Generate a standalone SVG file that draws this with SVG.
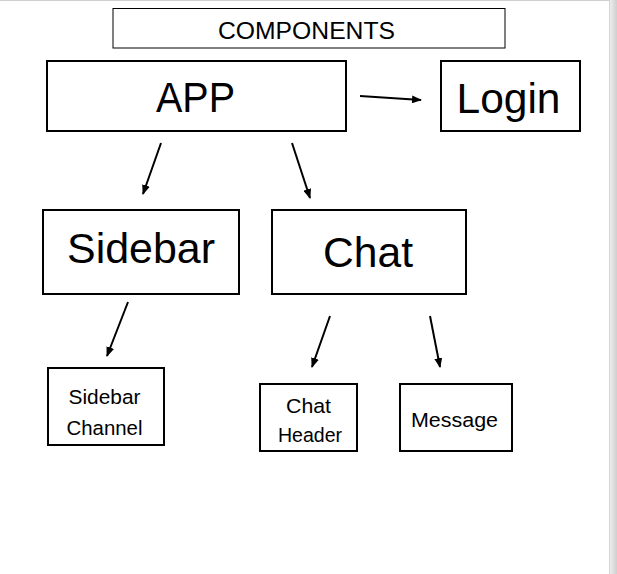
<svg xmlns="http://www.w3.org/2000/svg" width="617" height="574" viewBox="0 0 617 574">
  <style>
    .box { fill: #ffffff; stroke: #000000; stroke-width: 2; }
    .thin { fill: #ffffff; stroke: #000000; stroke-width: 1; }
    .lbl { font-family: "Liberation Sans", Arial, sans-serif; fill: #000000; text-anchor: middle; }
    .big { font-size: 42px; }
    .mid { font-size: 23px; }
    .small { font-size: 20.5px; }
    .conn { stroke: #000000; stroke-width: 2; fill: none; marker-end: url(#arrow); }
  </style>
  <defs>
    <marker id="arrow" markerUnits="userSpaceOnUse" markerWidth="10" markerHeight="8" refX="9" refY="4" orient="auto">
      <path d="M0,0 L10,4 L0,8 Z" fill="#000000"/>
    </marker>
    <linearGradient id="edge" x1="0" y1="0" x2="1" y2="0">
      <stop offset="0" stop-color="#c4c4c4"/>
      <stop offset="0.15" stop-color="#ececec"/>
      <stop offset="1" stop-color="#cfcfcf"/>
    </linearGradient>
  </defs>

  <rect x="0" y="0" width="617" height="574" fill="#ffffff"/>
  <rect x="609" y="0" width="8" height="574" fill="url(#edge)"/>
  <line x1="0" y1="0.5" x2="609" y2="0.5" stroke="#cfcfcf" stroke-width="1"/>

  <g id="title">
    <rect class="thin" x="113" y="8.5" width="392" height="39.5"/>
    <text class="lbl mid" x="306.5" y="38.5" textLength="177" lengthAdjust="spacingAndGlyphs">COMPONENTS</text>
  </g>

  <g id="app">
    <rect class="box" x="47" y="61" width="299" height="70"/>
    <text class="lbl big" x="195.5" y="112" textLength="79" lengthAdjust="spacingAndGlyphs">APP</text>
  </g>

  <g id="login">
    <rect class="box" x="441" y="61" width="139" height="70"/>
    <text class="lbl big" x="508.5" y="113" textLength="104" lengthAdjust="spacingAndGlyphs">Login</text>
  </g>

  <g id="sidebar">
    <rect class="box" x="43" y="210" width="196" height="84"/>
    <text class="lbl big" x="141" y="263" textLength="148" lengthAdjust="spacingAndGlyphs">Sidebar</text>
  </g>

  <g id="chat">
    <rect class="box" x="272" y="210" width="194" height="84"/>
    <text class="lbl big" x="368" y="267" textLength="90" lengthAdjust="spacingAndGlyphs">Chat</text>
  </g>

  <g id="sidebar-channel">
    <rect class="box" x="48" y="368" width="116" height="77"/>
    <text class="lbl small" x="104.5" y="404" textLength="72" lengthAdjust="spacingAndGlyphs">Sidebar</text>
    <text class="lbl small" x="104.5" y="435" textLength="76" lengthAdjust="spacingAndGlyphs">Channel</text>
  </g>

  <g id="chat-header">
    <rect class="box" x="260" y="384" width="97" height="67"/>
    <text class="lbl small" x="308.5" y="412.5" textLength="45" lengthAdjust="spacingAndGlyphs">Chat</text>
    <text class="lbl small" x="310" y="442" textLength="64" lengthAdjust="spacingAndGlyphs">Header</text>
  </g>

  <g id="message">
    <rect class="box" x="400" y="384" width="112" height="67"/>
    <text class="lbl small" x="454.5" y="427" textLength="87" lengthAdjust="spacingAndGlyphs">Message</text>
  </g>

  <g id="connectors">
    <line class="conn" x1="360" y1="96" x2="421" y2="100"/>
    <line class="conn" x1="161" y1="143" x2="143" y2="194"/>
    <line class="conn" x1="292" y1="143" x2="310" y2="198"/>
    <line class="conn" x1="128" y1="302" x2="107" y2="356"/>
    <line class="conn" x1="330" y1="316" x2="312" y2="367"/>
    <line class="conn" x1="430" y1="316" x2="440" y2="367"/>
  </g>
</svg>
